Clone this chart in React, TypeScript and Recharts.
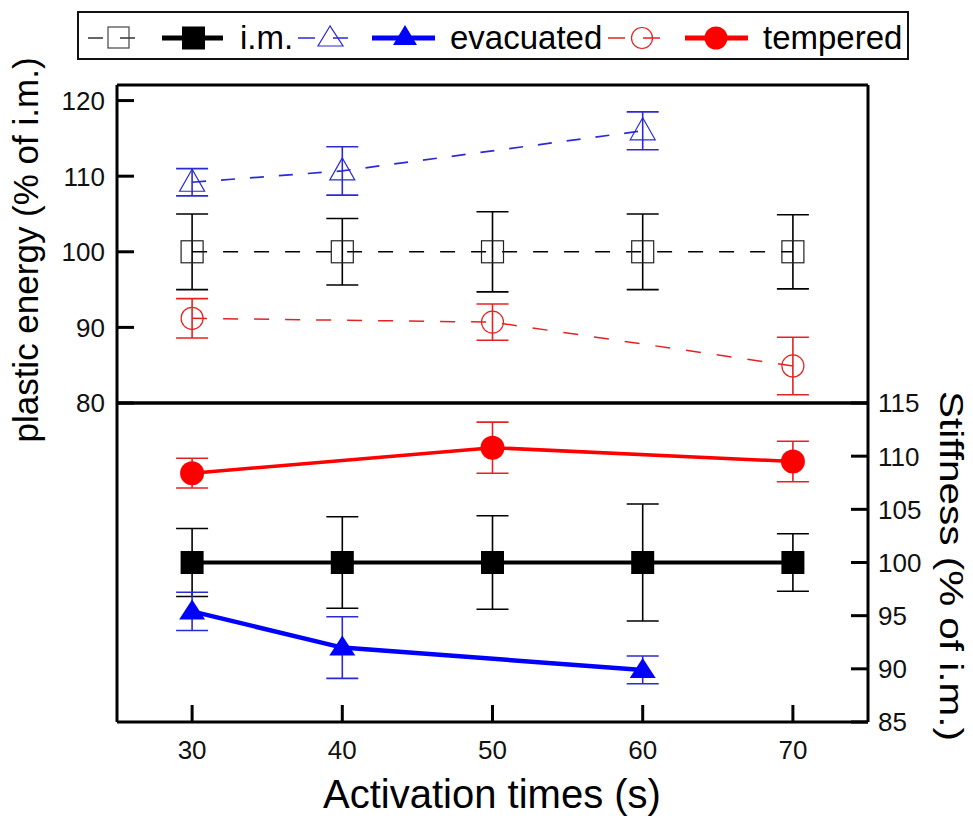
import React from "react";
import { ComposedChart, Line, XAxis, YAxis, ErrorBar } from "recharts";

const X_TICKS = [30, 40, 50, 60, 70];
const ENERGY_TICKS = [80, 90, 100, 110, 120];
const STIFF_TICKS = [85, 90, 95, 100, 105, 110, 115];

// plastic energy (% of i.m.)
const imTimes = [30, 40, 50, 60, 70];
const energyIm = [100, 100, 100, 100, 100];
const energyImErr = [5.0, 4.4, 5.3, 5.0, 4.9];
const evacTimes = [30, 40, 60];
const energyEvac = [109.2, 110.7, 116.0];
const energyEvacErr = [1.8, 3.2, 2.5];
const tempTimes = [30, 50, 70];
const energyTemp = [91.2, 90.7, 84.9];
const energyTempErr = [2.6, 2.4, 3.8];

// stiffness (% of i.m.)
const stiffIm = [100, 100, 100, 100, 100];
const stiffImErr = [3.2, 4.3, 4.4, 5.5, 2.7];
const stiffEvac = [95.4, 92.0, 89.9];
const stiffEvacErr = [1.8, 2.9, 1.3];
const stiffTemp = [108.4, 110.8, 109.5];
const stiffTempErr = [1.4, 2.4, 1.9];

const W = 973;
const H = 818;
const FONT = "'Liberation Sans', Arial, sans-serif";
const TICK_FS = 26;
const BLUE_THIN = "#2a2ad6";
const RED_THIN = "#e52222";
const BLUE = "#0000ff";
const RED = "#ff0000";

const rows = (xs: number[], ys: number[], es: number[]) =>
  xs.map((t, i) => ({ t, v: ys[i], e: es[i] }));

type DotProps = { cx?: number; cy?: number; index?: number };

const openSquare = (color: string) => (p: DotProps) => (
  <rect key={p.index} x={p.cx! - 11} y={p.cy! - 11} width={22} height={22} fill="none" stroke={color} strokeWidth={1.2} />
);
const openTriangle = (color: string) => (p: DotProps) => (
  <polygon
    key={p.index}
    points={`${p.cx},${p.cy! - 13} ${p.cx! - 12.5},${p.cy! + 9} ${p.cx! + 12.5},${p.cy! + 9}`}
    fill="none"
    stroke={color}
    strokeWidth={1.2}
  />
);
const openCircle = (color: string) => (p: DotProps) => (
  <circle key={p.index} cx={p.cx} cy={p.cy} r={11} fill="none" stroke={color} strokeWidth={1.2} />
);
const fillSquare = (color: string) => (p: DotProps) => (
  <rect key={p.index} x={p.cx! - 11.5} y={p.cy! - 11.5} width={23} height={23} fill={color} />
);
const fillTriangle = (color: string) => (p: DotProps) => (
  <polygon
    key={p.index}
    points={`${p.cx},${p.cy! - 12} ${p.cx! - 13},${p.cy! + 8} ${p.cx! + 13},${p.cy! + 8}`}
    fill={color}
  />
);
const fillCircle = (color: string) => (p: DotProps) => (
  <circle key={p.index} cx={p.cx} cy={p.cy} r={12} fill={color} />
);

// own tick text so the font size is certain; x ticks hang below, y ticks centred
type TickProps = { x: number; y: number; textAnchor?: string; payload: { value: number } };
const tickText = (axis: "x" | "y") => (p: TickProps) => (
  <text
    x={p.x}
    y={p.y + (axis === "x" ? 0.72 : 0.36) * TICK_FS}
    textAnchor={p.textAnchor as any}
    fontSize={TICK_FS}
    fontFamily={FONT}
    fill="#111"
  >
    {p.payload.value}
  </text>
);

const frame = { stroke: "#000", strokeWidth: 3 };

function EnergyPanel() {
  return (
    <ComposedChart width={W} height={H} margin={{ top: 84, right: 104, bottom: 414, left: 0 }}>
      <XAxis
        xAxisId="top"
        type="number"
        dataKey="t"
        domain={[25, 75]}
        ticks={X_TICKS}
        orientation="top"
        height={1}
        tick={false}
        tickSize={-17}
        tickLine={frame}
        axisLine={frame}
      />
      <XAxis xAxisId="mid" type="number" domain={[25, 75]} orientation="bottom" height={1} tick={false} tickLine={false} axisLine={frame} />
      <YAxis
        yAxisId="e"
        type="number"
        domain={[80, 122.06]}
        ticks={ENERGY_TICKS}
        width={117}
        tickSize={-17}
        tickMargin={29}
        tick={tickText("y")}
        tickLine={frame}
        axisLine={frame}
      />
      <YAxis yAxisId="r" orientation="right" type="number" domain={[80, 122.06]} width={1} tick={false} tickLine={false} axisLine={frame} />
      <Line
        xAxisId="top"
        yAxisId="e"
        data={rows(imTimes, energyIm, energyImErr)}
        dataKey="v"
        stroke="#000"
        strokeWidth={1.5}
        strokeDasharray="15 16"
        dot={openSquare("#222")}
        isAnimationActive={false}
      >
        <ErrorBar dataKey="e" width={16} stroke="#000" strokeWidth={1.6} direction="y" />
      </Line>
      <Line
        xAxisId="top"
        yAxisId="e"
        data={rows(evacTimes, energyEvac, energyEvacErr)}
        dataKey="v"
        stroke={BLUE_THIN}
        strokeWidth={1.7}
        strokeDasharray="14 15"
        dot={openTriangle(BLUE_THIN)}
        isAnimationActive={false}
      >
        <ErrorBar dataKey="e" width={16} stroke={BLUE_THIN} strokeWidth={1.6} direction="y" />
      </Line>
      <Line
        xAxisId="top"
        yAxisId="e"
        data={rows(tempTimes, energyTemp, energyTempErr)}
        dataKey="v"
        stroke={RED_THIN}
        strokeWidth={1.5}
        strokeDasharray="15 16"
        dot={openCircle(RED_THIN)}
        isAnimationActive={false}
      >
        <ErrorBar dataKey="e" width={16} stroke={RED_THIN} strokeWidth={1.6} direction="y" />
      </Line>
    </ComposedChart>
  );
}

function StiffnessPanel() {
  return (
    <ComposedChart width={W} height={H} margin={{ top: 402, right: 0, bottom: 56, left: 0 }}>
      <XAxis
        xAxisId="x"
        type="number"
        dataKey="t"
        domain={[25, 75]}
        ticks={X_TICKS}
        orientation="bottom"
        height={40}
        tickSize={-17}
        tickMargin={35}
        tick={tickText("x")}
        tickLine={frame}
        axisLine={frame}
      />
      <XAxis xAxisId="mid" type="number" domain={[25, 75]} orientation="top" height={1} tick={false} tickLine={false} axisLine={frame} />
      <YAxis yAxisId="l" type="number" domain={[85, 115]} width={117} tick={false} tickLine={false} axisLine={frame} />
      <YAxis
        yAxisId="s"
        orientation="right"
        type="number"
        domain={[85, 115]}
        ticks={STIFF_TICKS}
        width={105}
        tickSize={-17}
        tickMargin={27}
        tick={tickText("y")}
        tickLine={frame}
        axisLine={frame}
      />
      <Line
        xAxisId="x"
        yAxisId="s"
        data={rows(tempTimes, stiffTemp, stiffTempErr)}
        dataKey="v"
        stroke={RED}
        strokeWidth={3.5}
        dot={fillCircle(RED)}
        isAnimationActive={false}
      >
        <ErrorBar dataKey="e" width={16} stroke={RED_THIN} strokeWidth={1.6} direction="y" />
      </Line>
      <Line
        xAxisId="x"
        yAxisId="s"
        data={rows(imTimes, stiffIm, stiffImErr)}
        dataKey="v"
        stroke="#000"
        strokeWidth={4}
        dot={fillSquare("#000")}
        isAnimationActive={false}
      >
        <ErrorBar dataKey="e" width={16} stroke="#000" strokeWidth={1.6} direction="y" />
      </Line>
      <Line
        xAxisId="x"
        yAxisId="s"
        data={rows(evacTimes, stiffEvac, stiffEvacErr)}
        dataKey="v"
        stroke={BLUE}
        strokeWidth={4.5}
        dot={fillTriangle(BLUE)}
        isAnimationActive={false}
      >
        <ErrorBar dataKey="e" width={16} stroke={BLUE_THIN} strokeWidth={1.6} direction="y" />
      </Line>
    </ComposedChart>
  );
}

function Overlay() {
  const ly = 38;
  return (
    <svg width={W} height={H} style={{ position: "absolute", left: 0, top: 0, pointerEvents: "none" }} fontFamily={FONT}>
      <rect x={78} y={12} width={830} height={47} fill="none" stroke="#111" strokeWidth={2} />
      {/* legend: plastic energy / stiffness pairs */}
      <line x1={88} y1={ly} x2={138} y2={ly} stroke="#333" strokeWidth={1.5} strokeDasharray="15 17" />
      <rect x={108} y={ly - 11} width={21} height={21} fill="none" stroke="#444" strokeWidth={1.2} />
      <line x1={162} y1={ly} x2={223} y2={ly} stroke="#000" strokeWidth={5} />
      <rect x={182} y={ly - 11.5} width={23} height={23} fill="#000" />
      <text x={240} y={49} fontSize={33}>i.m.</text>

      <line x1={298} y1={ly} x2={348} y2={ly} stroke={BLUE_THIN} strokeWidth={1.6} strokeDasharray="17 18" />
      <polygon points={`330,${ly - 12} 318,${ly + 8} 343,${ly + 8}`} fill="none" stroke={BLUE_THIN} strokeWidth={1.2} />
      <line x1={372} y1={ly} x2={435} y2={ly} stroke={BLUE} strokeWidth={5} />
      <polygon points={`405,${ly - 13} 393,${ly + 7} 417,${ly + 7}`} fill={BLUE} />
      <text x={450} y={49} fontSize={33}>evacuated</text>

      <line x1={608} y1={ly} x2={660} y2={ly} stroke={RED_THIN} strokeWidth={1.5} strokeDasharray="17 18" />
      <circle cx={642} cy={ly} r={10.5} fill="none" stroke={RED_THIN} strokeWidth={1.2} />
      <line x1={685} y1={ly} x2={748} y2={ly} stroke={RED} strokeWidth={5} />
      <circle cx={716} cy={ly} r={11.5} fill={RED} />
      <text x={763} y={49} fontSize={33}>tempered</text>

      <text x={38} y={250} fontSize={35} textAnchor="middle" transform="rotate(-90 38 250)">
        plastic energy (% of i.m.)
      </text>
      <text
        x={940}
        y={566}
        fontSize={34}
        textAnchor="middle"
        textLength={350}
        lengthAdjust="spacingAndGlyphs"
        transform="rotate(90 940 566)"
      >
        Stiffness (% of i.m.)
      </text>
      <text x={492} y={808} fontSize={40} textAnchor="middle">
        Activation times (s)
      </text>
    </svg>
  );
}

export default function App() {
  return (
    <div style={{ position: "relative", width: W, height: H, background: "#fff", fontFamily: FONT }}>
      <style>{"body{margin:0}"}</style>
      <div style={{ position: "absolute", left: 0, top: 0 }}>
        <EnergyPanel />
      </div>
      <div style={{ position: "absolute", left: 0, top: 0 }}>
        <StiffnessPanel />
      </div>
      <Overlay />
    </div>
  );
}
